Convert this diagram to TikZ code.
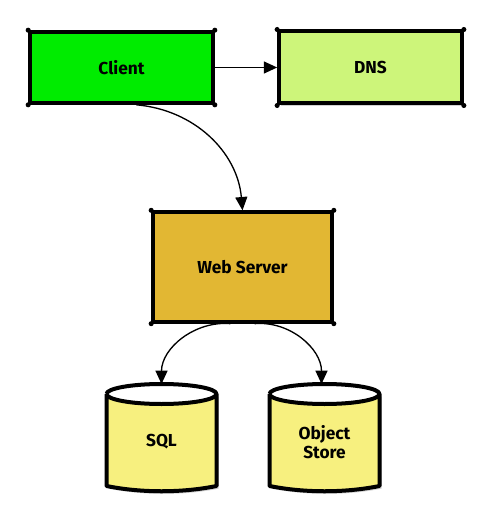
\documentclass[tikz,border=0pt]{standalone}
\usepackage{fontspec}
\setmainfont{Fira Sans}
\usetikzlibrary{shadows,arrows.meta,calc}
\definecolor{clientc}{HTML}{00EC00}
\definecolor{dnsc}{HTML}{CDF57A}
\definecolor{webc}{HTML}{E2B733}
\definecolor{dbc}{HTML}{F7F07F}
\tikzset{
  x=0.75pt,y=-0.75pt,
  boxstyle/.style={draw=black,line width=3pt,minimum width=#1,
    drop shadow={opacity=0.35,shadow xshift=1.5pt,shadow yshift=-2pt},
    font=\bfseries\fontsize{13}{15}\selectfont,inner sep=0pt},
  conn/.style={line width=1pt,-{Triangle[length=10pt,width=9pt]}},
  dbfont/.style={font=\bfseries\fontsize{13}{14}\selectfont,align=center},
}
\newcommand{\cornerdots}[1]{%
  \fill (#1.north west) circle (1.9pt) (#1.north east) circle (1.9pt)
        (#1.south west) circle (1.9pt) (#1.south east) circle (1.9pt);}
\begin{document}
\begin{tikzpicture}
\useasboundingbox (0,0) rectangle (494,524);
% boxes
\node[boxstyle=137pt,fill=clientc,minimum height=53pt] (client) at (121.5,67.5) {Client};
\node[boxstyle=137pt,fill=dnsc,minimum height=54pt] (dns) at (370.5,67.5) {DNS};
\node[boxstyle=134pt,fill=webc,minimum height=82pt] (web) at (242.5,267) {Web Server};
\cornerdots{client}
\cornerdots{dns}
\cornerdots{web}
% cylinders
\foreach \nm/\cx in {sql/161.5, obj/324.5}{
  \begin{scope}
  \path[fill=dbc,drop shadow={opacity=0.35,shadow xshift=1.5pt,shadow yshift=-2pt}]
    (\cx-55,394) arc[start angle=180,end angle=0,x radius=55,y radius=10]
    -- (\cx+55,486) .. controls (\cx+20,493) and (\cx-20,493) .. (\cx-55,486) -- cycle;
  \draw[line width=3pt,line join=round]
    (\cx-55,394) arc[start angle=180,end angle=-180,x radius=55,y radius=10]
    (\cx-55,394) -- (\cx-55,486) .. controls (\cx-20,493) and (\cx+20,493) .. (\cx+55,486) -- (\cx+55,394);
  \end{scope}
  \coordinate (\nm top) at (\cx,384);
  \coordinate (\nm c) at (\cx,442);
}
\node[dbfont] (sqlt) at (sqlc) {SQL};
\node[dbfont] (objt) at (objc) {Object\\Store};
% connectors
\draw[conn] (client.east) -- (dns.west);
\draw[conn] ($(client.south)+(15,0)$) to[out=-5,in=95] (web.north);
\draw[conn] ($(web.south)+(-12,0)$) to[out=175,in=90] (sqltop);
\draw[conn] ($(web.south)+(12,0)$) to[out=5,in=90] ($(objtop)+(-3,0)$);
\end{tikzpicture}
\end{document}
